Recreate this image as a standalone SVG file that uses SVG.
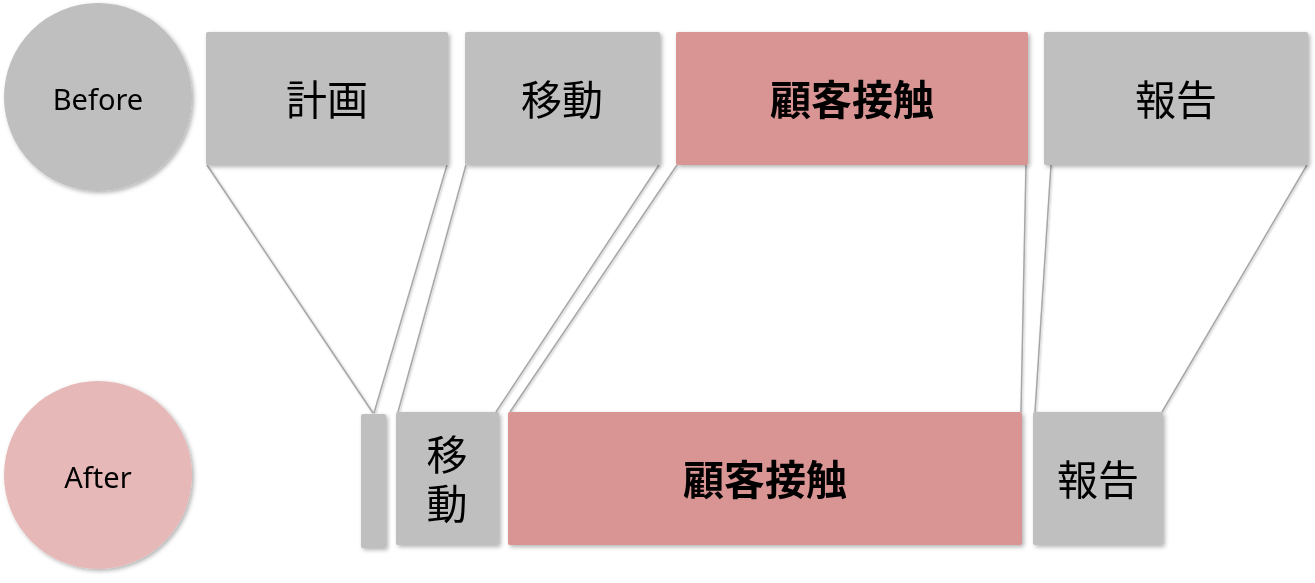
<svg xmlns="http://www.w3.org/2000/svg" width="1315" height="583" viewBox="0 0 1315 583">
<defs>
<filter id="sh" x="-10%" y="-10%" width="130%" height="130%">
<feDropShadow dx="2" dy="2" stdDeviation="2" flood-color="#000" flood-opacity="0.3"/>
</filter>
<filter id="lsh" x="-10%" y="-10%" width="130%" height="130%">
<feDropShadow dx="1" dy="1" stdDeviation="1" flood-color="#000" flood-opacity="0.25"/>
</filter>
</defs>
<style>
.g{fill:#BFBFBF}
.p{fill:#D99594}
.c1{fill:#BFBFBF}
.c2{fill:#E6B8B7}
.lbl{font-family:"Noto Sans","Liberation Sans",sans-serif;font-size:29px;fill:#000;text-anchor:middle}
.jp{font-family:"Noto Sans CJK JP",sans-serif;font-size:41px;fill:#000;text-anchor:middle}
.b{font-weight:bold}
.ln{stroke:#A6A6A6;stroke-width:1.5;fill:none}
</style>
<g id="connectors" filter="url(#lsh)">
<line class="ln" x1="207" y1="165" x2="373" y2="413"/>
<line class="ln" x1="447" y1="165" x2="374" y2="413"/>
<line class="ln" x1="466" y1="165" x2="398" y2="412"/>
<line class="ln" x1="659" y1="165" x2="496" y2="412"/>
<line class="ln" x1="677" y1="165" x2="510" y2="412"/>
<line class="ln" x1="1026" y1="165" x2="1021" y2="412"/>
<line class="ln" x1="1051" y1="165" x2="1035" y2="412"/>
<line class="ln" x1="1307" y1="165" x2="1162" y2="412"/>
</g>
<g id="before" filter="url(#sh)">
<circle class="c1" cx="98" cy="97" r="94"/>
<text class="lbl" x="98" y="110">Before</text>
</g>
<g id="after" filter="url(#sh)">
<circle class="c2" cx="98" cy="475" r="94"/>
<text class="lbl" x="98" y="488">After</text>
</g>
<g id="b-plan" filter="url(#sh)">
<rect class="g" x="206" y="32" width="242" height="133" rx="2"/>
<text class="jp" x="327" y="115">計画</text>
</g>
<g id="b-move" filter="url(#sh)">
<rect class="g" x="465" y="32" width="195" height="133" rx="2"/>
<text class="jp" x="562" y="115">移動</text>
</g>
<g id="b-contact" filter="url(#sh)">
<rect class="p" x="676" y="32" width="352" height="133" rx="2"/>
<text class="jp b" x="852" y="115">顧客接触</text>
</g>
<g id="b-report" filter="url(#sh)">
<rect class="g" x="1044" y="32" width="264" height="133" rx="2"/>
<text class="jp" x="1176" y="115">報告</text>
</g>
<g id="a-plan" filter="url(#sh)">
<rect class="g" x="361" y="414" width="25" height="134" rx="2"/>
</g>
<g id="a-move" filter="url(#sh)">
<rect class="g" x="396" y="412" width="103" height="133" rx="2"/>
<text class="jp"><tspan x="447" y="470">移</tspan><tspan x="447" y="519">動</tspan></text>
</g>
<g id="a-contact" filter="url(#sh)">
<rect class="p" x="508" y="412" width="514" height="133" rx="2"/>
<text class="jp b" x="765" y="495">顧客接触</text>
</g>
<g id="a-report" filter="url(#sh)">
<rect class="g" x="1033" y="412" width="130" height="133" rx="2"/>
<text class="jp" x="1098" y="495">報告</text>
</g>
</svg>
